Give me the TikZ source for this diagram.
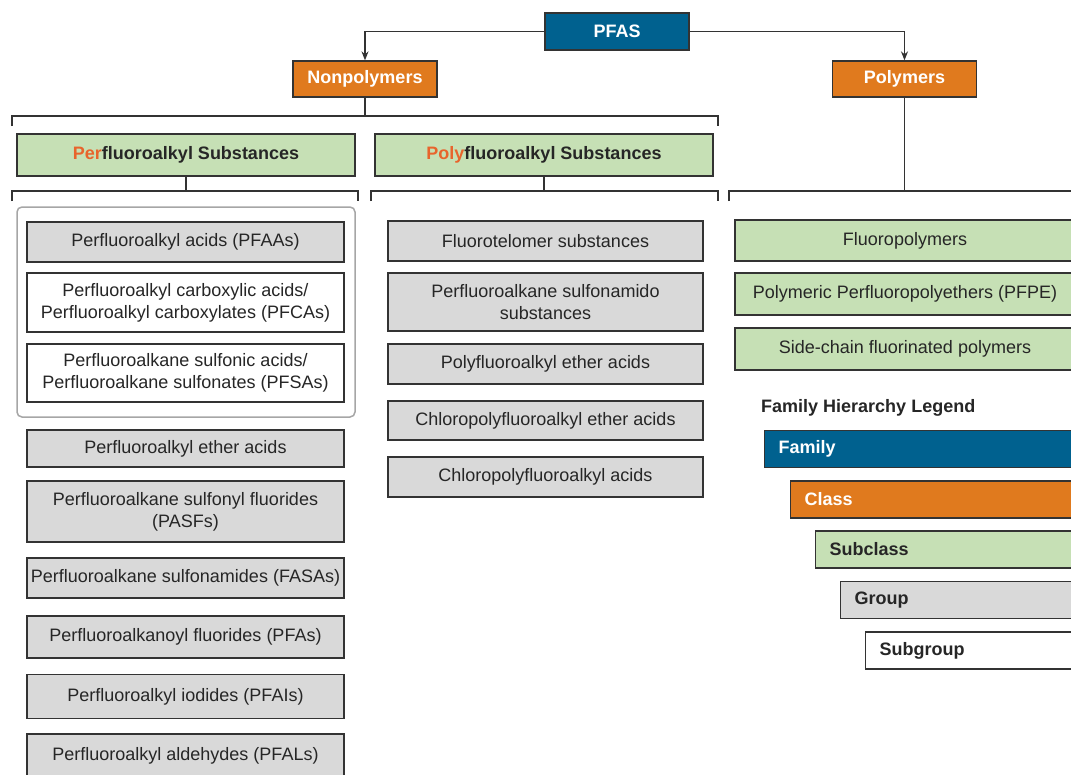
\documentclass[tikz,border=0pt]{standalone}
\usepackage{fontspec}
\setmainfont{Liberation Sans}
\usetikzlibrary{arrows.meta}
\definecolor{blu}{HTML}{00618F}
\definecolor{org}{HTML}{E07A1E}
\definecolor{grn}{HTML}{C6E0B5}
\definecolor{gry}{HTML}{D9D9D9}
\definecolor{edge}{HTML}{333333}
\definecolor{txt}{HTML}{262626}
\definecolor{perc}{HTML}{E8642C}
\newcommand{\fs}{\fontsize{18}{22}\selectfont}
\tikzset{
  box/.style={draw=edge, line width=1.3pt, inner sep=2pt, align=center, font=\fs, text=txt},
  grpbox/.style={box, fill=gry},
  subgbox/.style={box, fill=white},
  subcbox/.style={box, fill=grn},
  clsbox/.style={box, fill=org, text=white, font=\fs\bfseries},
  fambox/.style={box, fill=blu, text=white, font=\fs\bfseries},
  conn/.style={draw=edge, line width=1.3pt},
  arr/.style={conn, -{Stealth[length=9pt,width=7pt]}},
  legbox/.style={anchor=west, inner xsep=14pt, text width=320pt, align=left, minimum height=37pt},
}
\begin{document}
\begin{tikzpicture}[x=1pt,y=-1pt]
\clip (0,0) rectangle (1071,774);
\fill[white] (0,0) rectangle (1071,774);
% top levels
\node[fambox, minimum width=144pt, minimum height=37pt] (pfas) at (617,31.5) {PFAS};
\node[clsbox, minimum width=144pt, minimum height=36pt] (nonp) at (365,79) {Nonpolymers};
\node[clsbox, minimum width=144pt, minimum height=36pt] (poly) at (904.5,79) {Polymers};
\draw[arr] (pfas.west) -| (nonp.north);
\draw[arr] (pfas.east) -| (poly.north);
% subclasses
\node[subcbox, font=\fs\bfseries, minimum width=338pt, minimum height=42pt] (per) at (186,155) {{\color{perc}Per}fluoroalkyl Substances};
\node[subcbox, font=\fs\bfseries, minimum width=338pt, minimum height=42pt] (pol) at (544,155) {{\color{perc}Poly}fluoroalkyl Substances};
% brackets
\coordinate (b1m) at (365,116); \coordinate (b1l) at (12,116); \coordinate (b1r) at (718,116);
\draw[conn] (nonp.south) -- (b1m);
\draw[conn] (12,126) -- (b1l) -- (b1r) -- (718,126);
\coordinate (b2m) at (186,191); \coordinate (b2l) at (12,191); \coordinate (b2r) at (358,191);
\draw[conn] (per.south) -- (b2m);
\draw[conn] (12,201) -- (b2l) -- (b2r) -- (358,201);
\coordinate (b3m) at (544,191); \coordinate (b3l) at (371,191); \coordinate (b3r) at (718,191);
\draw[conn] (pol.south) -- (b3m);
\draw[conn] (371,201) -- (b3l) -- (b3r) -- (718,201);
\coordinate (b4m) at (904.5,191); \coordinate (b4l) at (729,191); \coordinate (b4r) at (1090,191);
\draw[conn] (poly.south) -- (b4m);
\draw[conn] (729,201) -- (b4l) -- (b4r);
% group outline
\node[draw=black!35, line width=1.5pt, rounded corners=5pt, minimum width=338pt, minimum height=210pt] (pfaagrp) at (186,312) {};
% left column
\node[grpbox, minimum width=317pt, minimum height=40pt] (pfaa) at (185.5,242) {Perfluoroalkyl acids (PFAAs)};
\node[subgbox, minimum width=317pt, minimum height=59pt] (pfca) at (185.5,302.5) {Perfluoroalkyl carboxylic acids/\\Perfluoroalkyl carboxylates (PFCAs)};
\node[subgbox, minimum width=317pt, minimum height=58pt] (pfsa) at (185.5,373) {Perfluoroalkane sulfonic acids/\\Perfluoroalkane sulfonates (PFSAs)};
\node[grpbox, minimum width=317pt, minimum height=37pt] (pfea) at (185.5,448.5) {Perfluoroalkyl ether acids};
\node[grpbox, minimum width=317pt, minimum height=61pt] (pasf) at (185.5,511.5) {Perfluoroalkane sulfonyl fluorides\\(PASFs)};
\node[grpbox, minimum width=317pt, minimum height=40pt] (fasa) at (185.5,578) {Perfluoroalkane sulfonamides (FASAs)};
\node[grpbox, minimum width=317pt, minimum height=42pt] (pfas2) at (185.5,637) {Perfluoroalkanoyl fluorides (PFAs)};
\node[grpbox, minimum width=317pt, minimum height=44pt] (pfai) at (185.5,696.5) {Perfluoroalkyl iodides (PFAIs)};
\node[grpbox, minimum width=317pt, minimum height=44pt] (pfal) at (185.5,756) {Perfluoroalkyl aldehydes (PFALs)};
% middle column
\node[grpbox, minimum width=315pt, minimum height=40pt] (ft) at (545.5,241) {Fluorotelomer substances};
\node[grpbox, minimum width=315pt, minimum height=58pt] (psub) at (545.5,302) {Perfluoroalkane sulfonamido\\substances};
\node[grpbox, minimum width=315pt, minimum height=40pt] (pfeth) at (545.5,364) {Polyfluoroalkyl ether acids};
\node[grpbox, minimum width=315pt, minimum height=39pt] (cpfe) at (545.5,420.5) {Chloropolyfluoroalkyl ether acids};
\node[grpbox, minimum width=315pt, minimum height=40pt] (cpfa) at (545.5,477) {Chloropolyfluoroalkyl acids};
% right column
\node[subcbox, minimum width=340pt, minimum height=41pt] (fp) at (905,240.5) {Fluoropolymers};
\node[subcbox, minimum width=340pt, minimum height=42pt] (pfpe) at (905,294) {Polymeric Perfluoropolyethers (PFPE)};
\node[subcbox, minimum width=340pt, minimum height=42pt] (scfp) at (905,349) {Side-chain fluorinated polymers};
% legend
\node[anchor=west, font=\fs\bfseries, text=txt, inner sep=0pt] (legt) at (761,408) {Family Hierarchy Legend};
\node[fambox, legbox] (lfam) at (764,449) {Family};
\node[clsbox, legbox] (lcls) at (790,499.5) {Class};
\node[subcbox, legbox, font=\fs\bfseries] (lsub) at (815,549.5) {Subclass};
\node[grpbox, legbox, font=\fs\bfseries] (lgrp) at (840,600) {Group};
\node[subgbox, legbox, font=\fs\bfseries] (lsg) at (865,650.5) {Subgroup};
\end{tikzpicture}
\end{document}
